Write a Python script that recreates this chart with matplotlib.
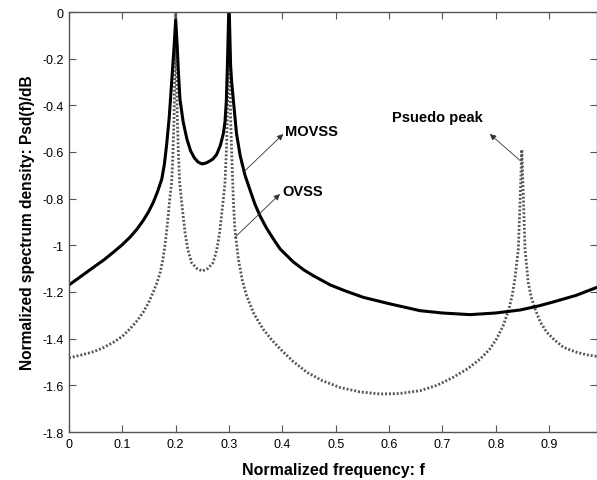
import matplotlib
matplotlib.use("Agg")
import matplotlib.pyplot as plt

# MOVSS (solid) curve
movss_f = [0.000, 0.020, 0.046, 0.065, 0.083, 0.100, 0.114, 0.127, 0.139, 0.149, 0.158, 0.166,
           0.174, 0.179, 0.183, 0.188, 0.1925, 0.197, 0.200,
           0.203, 0.205, 0.208, 0.214, 0.221, 0.228, 0.235, 0.242, 0.249, 0.256, 0.263, 0.270,
           0.277, 0.284, 0.2895, 0.2925, 0.295, 0.297, 0.300,
           0.303, 0.305, 0.308, 0.314, 0.321, 0.330, 0.339, 0.348, 0.358, 0.370, 0.383,
           0.396, 0.420, 0.440, 0.458, 0.490, 0.520, 0.552, 0.600, 0.658, 0.700, 0.752,
           0.800, 0.846, 0.880, 0.9075, 0.950, 0.990]
movss_y = [-1.170, -1.137, -1.094, -1.063, -1.030, -0.997, -0.966, -0.932, -0.894, -0.857, -0.816, -0.770,
           -0.716, -0.650, -0.570, -0.450, -0.300, -0.150, -0.035,
           -0.150, -0.250, -0.373, -0.470, -0.544, -0.595, -0.625, -0.643, -0.651, -0.648, -0.640, -0.630,
           -0.610, -0.570, -0.520, -0.470, -0.380, -0.230, 0.050,
           -0.230, -0.300, -0.373, -0.520, -0.616, -0.700, -0.760, -0.820, -0.873, -0.925, -0.972,
           -1.016, -1.070, -1.105, -1.130, -1.170, -1.197, -1.223, -1.250, -1.280, -1.290, -1.297,
           -1.290, -1.277, -1.260, -1.243, -1.215, -1.180]

# OVSS (dotted) curve
ovss_f = [0.000, 0.020, 0.046, 0.065, 0.083, 0.100, 0.114, 0.127, 0.139, 0.149, 0.158, 0.165,
          0.171, 0.176, 0.180, 0.183, 0.186, 0.189, 0.1925, 0.195, 0.197, 0.200,
          0.203, 0.205, 0.2075, 0.2105, 0.2175, 0.223, 0.230, 0.240, 0.250, 0.260, 0.270,
          0.277, 0.2825, 0.2895, 0.2925, 0.295, 0.297, 0.300,
          0.303, 0.305, 0.308, 0.311, 0.3175, 0.325, 0.333, 0.347, 0.364, 0.380, 0.396,
          0.420, 0.446, 0.475, 0.508, 0.545, 0.583, 0.620, 0.658, 0.690, 0.720, 0.748,
          0.771, 0.788, 0.802, 0.814, 0.824, 0.831, 0.836, 0.8425, 0.846, 0.849, 0.852,
          0.855, 0.861, 0.867, 0.874, 0.884, 0.896, 0.910, 0.927, 0.950, 0.970, 0.990]
ovss_y = [-1.482, -1.472, -1.456, -1.438, -1.416, -1.390, -1.359, -1.325, -1.287, -1.247, -1.200, -1.160,
          -1.116, -1.060, -1.000, -0.940, -0.873, -0.800, -0.730, -0.600, -0.450, 0.000,
          -0.450, -0.600, -0.730, -0.800, -0.944, -1.020, -1.075, -1.100, -1.110, -1.100, -1.075,
          -1.020, -0.944, -0.800, -0.730, -0.600, -0.450, 0.050,
          -0.450, -0.600, -0.800, -0.930, -1.059, -1.150, -1.216, -1.295, -1.359, -1.405, -1.444,
          -1.497, -1.544, -1.580, -1.609, -1.628, -1.637, -1.635, -1.623, -1.600, -1.566, -1.528,
          -1.487, -1.447, -1.400, -1.345, -1.280, -1.215, -1.144, -1.016, -0.800, -0.590, -0.800,
          -1.016, -1.159, -1.225, -1.273, -1.330, -1.373, -1.405, -1.437, -1.457, -1.469, -1.476]

xticks = [0, 0.1, 0.2, 0.3, 0.4, 0.5, 0.6, 0.7, 0.8, 0.9]
xticklabels = ["0", "0.1", "0.2", "0.3", "0.4", "0.5", "0.6", "0.7", "0.8", "0.9"]
yticks = [0, -0.2, -0.4, -0.6, -0.8, -1, -1.2, -1.4, -1.6, -1.8]
yticklabels = ["0", "-0.2", "-0.4", "-0.6", "-0.8", "-1", "-1.2", "-1.4", "-1.6", "-1.8"]

plt.rcParams['font.family'] = ['Liberation Sans', 'DejaVu Sans']

fig = plt.figure(figsize=(5.97, 4.81), dpi=100)
ax = fig.add_axes([69/597, 1-433/481, 1-69/597, 420/481])

ax.plot(ovss_f, ovss_y, color='#555555', lw=2.0, linestyle=(0, (0.7, 0.7)))
ax.plot(movss_f, movss_y, color='black', lw=2.2)

ax.set_xlim(0, 0.99)
ax.set_ylim(-1.8, 0)
ax.set_xticks(xticks)
ax.set_xticklabels(xticklabels)
ax.set_yticks(yticks)
ax.set_yticklabels(yticklabels)
ax.tick_params(direction='in', length=5, width=0.8, color='#555555', labelsize=9,
               top=True, right=True, pad=4)
for s in ax.spines.values():
    s.set_color('#555555')
    s.set_linewidth(1.0)

ax.set_xlabel("Normalized frequency: f", fontsize=11.5, fontweight='bold', labelpad=9)
ax.set_ylabel("Normalized spectrum density: Psd(f)/dB", fontsize=11.2, fontweight='bold', labelpad=5)

ap = dict(arrowstyle='-|>', lw=0.6, color='#333333', mutation_scale=9, shrinkA=0, shrinkB=0)
ax.annotate('', xy=(0.4018, -0.523), xytext=(0.3268, -0.687), arrowprops=ap)
ax.text(0.405, -0.509, "MOVSS", fontsize=10.5, fontweight='bold', va='center', ha='left')
ax.annotate('', xy=(0.3956, -0.78), xytext=(0.311, -0.966), arrowprops=ap)
ax.text(0.401, -0.767, "OVSS", fontsize=10.5, fontweight='bold', va='center', ha='left')
ax.annotate('', xy=(0.789, -0.523), xytext=(0.846, -0.637), arrowprops=ap)
ax.text(0.776, -0.45, "Psuedo peak", fontsize=10.5, fontweight='bold', va='center', ha='right')

fig.savefig("out.png", dpi=100)
